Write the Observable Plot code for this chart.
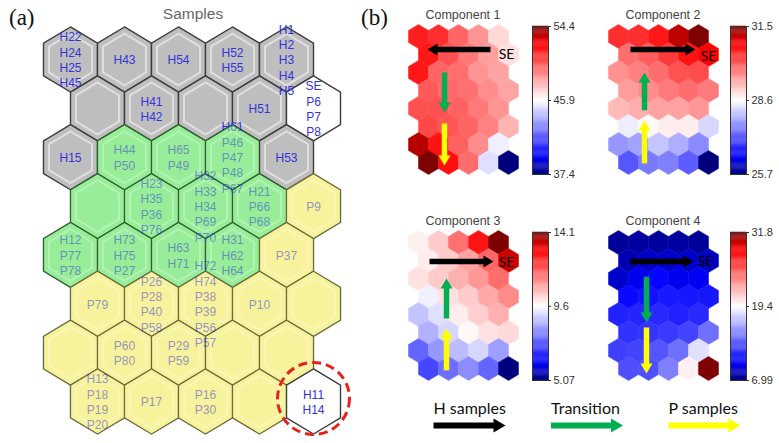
<!DOCTYPE html>
<html><head><meta charset="utf-8">
<script src="https://cdn.jsdelivr.net/npm/d3@7"></script>
<script src="https://cdn.jsdelivr.net/npm/@observablehq/plot@0.6"></script>
<style>
body{margin:0;background:#fff;}
#fig{position:relative;width:779px;height:443px;overflow:hidden;font-family:"Liberation Sans",Arial,sans-serif;background:#fff;}
.box{position:absolute;}
.lbl{position:absolute;white-space:nowrap;line-height:1;}
.panel{font-family:"Liberation Serif","Times New Roman",serif;font-size:23px;color:#111;}
.ttl{font-size:12.5px;color:#444;transform:translateX(-50%);}
</style></head><body><div id="fig"></div>
<script>
// ---------------- DATA ----------------
// (a) SOM of samples: 8 rows x 5 columns (odd rows shifted half a cell right)
const sampleClass = [
  ["H","H","H","H","H"],
  ["H","H","H","H","SE"],
  ["H","T","T","T","H"],
  ["T","T","T","T","P"],
  ["T","T","T","T","P"],
  ["P","P","P","P","P"],
  ["P","P","P","P","P"],
  ["P","P","P","P","O"]
];
const sampleLabels = [
  ["H22 H24 H25 H45","H43","H54","H52 H55","H1 H2 H3 H4 H5"],
  ["","H41 H42","","H51","SE P6 P7 P8"],
  ["H15","H44 P50","H65 P49","H61 P46 P47 P48 P67","H53"],
  ["","H23 H35 P36 P76","H32 H33 H34 P69 P70","H21 P66 P68","P9"],
  ["H12 P77 P78","H73 H75 P27","H63 H71","H31 H62 H64","P37"],
  ["P79","P26 P28 P40 P58","H72 H74 P38 P39 P56 P57","P10",""],
  ["","P60 P80","P29 P59","",""],
  ["H13 P18 P19 P20","P17","P16 P30","","H11 H14"]
];
// (b) component planes, 8 rows x 5 columns
const comp1Values = [
  [51.6, 51.2, 49.8, 48.6, 46.9],
  [51.8, 50.3, 49.3, 48.3, 46.7],
  [51.8, 49.8, 49.6, 48.6, 48.2],
  [50.1, 49.7, 49.5, 48.8, 48.2],
  [50.3, 50.3, 49.9, 49.3, 48.6],
  [50.5, 50.2, 49.8, 49.1, 47.8],
  [53.5, 51.9, 49.9, 48.8, 45.5],
  [54.4, 52.0, 49.6, 45.1, 37.4]
];
const comp2Values = [
  [30.4, 30.4, 30.6, 31.15, 31.5],
  [29.85, 30.0, 30.3, 30.65, 30.8],
  [29.55, 29.7, 29.85, 30.1, 30.15],
  [29.45, 29.6, 29.75, 29.85, 29.75],
  [29.2, 29.3, 29.4, 29.4, 29.5],
  [28.45, 28.65, 28.75, 28.75, 28.25],
  [27.7, 27.8, 28.1, 27.9, 27.6],
  [27.15, 27.45, 27.5, 27.2, 25.7]
];
const comp3Values = [
  [9.8, 10.3, 11.5, 12.75, 14.1],
  [9.85, 10.3, 10.85, 11.65, 13.4],
  [10.0, 10.3, 10.65, 11.0, 11.55],
  [9.4, 10.0, 10.3, 10.75, 11.15],
  [8.8, 9.2, 9.85, 10.25, 10.65],
  [8.55, 9.05, 9.7, 10.0, 10.1],
  [7.5, 8.2, 8.7, 9.05, 8.3],
  [7.1, 7.65, 8.05, 7.5, 5.07]
];
const comp4Values = [
  [7.6, 7.8, 7.7, 7.8, 7.6],
  [8.2, 8.7, 8.8, 8.8, 8.5],
  [8.8, 9.6, 10.1, 9.6, 9.7],
  [10.3, 10.6, 10.9, 10.8, 10.8],
  [11.2, 11.3, 11.5, 11.2, 11.5],
  [11.8, 11.9, 12.1, 12.5, 14.1],
  [12.3, 12.5, 13.1, 14.1, 18.3],
  [12.9, 12.9, 14.7, 19.9, 31.8]
];
const compTitles = ["Component 1","Component 2","Component 3","Component 4"];
const comp1Ticks = [37.4, 45.9, 54.4];
const comp2Ticks = [25.7, 28.6, 31.5];
const comp3Ticks = [5.07, 9.6, 14.1];
const comp4Ticks = [6.99, 19.4, 31.8];
// arrows in grid units (column, row) : H samples (black), transition (green), P samples (yellow)
const comp1Arrows = [{x1:3.6,y1:0.72,x2:0.45,y2:0.72,k:"H"},{x1:1.3,y1:2.0,x2:1.3,y2:4.22,k:"T"},{x1:1.3,y1:4.83,x2:1.3,y2:7.17,k:"P"}];
const comp2Arrows = [{x1:0.6,y1:0.72,x2:3.85,y2:0.72,k:"H"},{x1:1.3,y1:4.1,x2:1.3,y2:2.0,k:"T"},{x1:1.3,y1:7.05,x2:1.3,y2:4.67,k:"P"}];
const comp3Arrows = [{x1:0.55,y1:1.06,x2:3.75,y2:1.06,k:"H"},{x1:1.4,y1:4.22,x2:1.4,y2:2.0,k:"T"},{x1:1.4,y1:7.1,x2:1.4,y2:4.78,k:"P"}];
const comp4Arrows = [{x1:0.6,y1:1.06,x2:3.75,y2:1.06,k:"H"},{x1:1.4,y1:1.9,x2:1.4,y2:4.44,k:"T"},{x1:1.4,y1:4.72,x2:1.4,y2:7.28,k:"P"}];
const seLabelPos = [{x:4.4,y:1.0},{x:4.5,y:1.1},{x:4.4,y:1.1},{x:4.35,y:1.05}];
const legendLabels = ["H samples","Transition","P samples"];
const legendKeys = ["H","T","P"];

// ---------------- STYLE ----------------
const arrowColor = {H:"#000000", T:"#00b050", P:"#ffff00"};
const classFill = {H:"#bebebe", T:"#98ee98", P:"#f7f39c", SE:"#ffffff", O:"#ffffff"};
const classStroke = {H:"#3c3c3c", T:"#2f5f2f", P:"#6e6a40", SE:"#3c3c3c", O:"#3c3c3c"};
const K = 1.205; // hex height stretch
function hexSymbol(k){
  return {draw(ctx, size){
    const rx = Math.sqrt(size/Math.PI), ry = rx*k;
    ctx.moveTo(0,-ry); ctx.lineTo(rx,-ry/2); ctx.lineTo(rx,ry/2);
    ctx.lineTo(0,ry); ctx.lineTo(-rx,ry/2); ctx.lineTo(-rx,-ry/2); ctx.closePath();
  }};
}
function headSymbol(L, W){
  return {draw(ctx){ ctx.moveTo(0,0); ctx.lineTo(W/2,L); ctx.lineTo(-W/2,L); ctx.closePath(); }};
}
const hex = hexSymbol(K);
const baseStyle = {background:"transparent", overflow:"visible", maxWidth:"none", fontFamily:"'Liberation Sans', Arial, sans-serif"};
const fig = document.getElementById("fig");
function place(node, left, top, w, h){
  const d = document.createElement("div");
  d.className = "box"; d.style.left = left+"px"; d.style.top = top+"px";
  d.style.width = w+"px"; d.style.height = h+"px";
  d.appendChild(node); fig.appendChild(d);
}
function label(text, left, top, cls){
  const d = document.createElement("div");
  d.className = "lbl " + cls; d.textContent = text;
  d.style.left = left+"px"; d.style.top = top+"px"; fig.appendChild(d);
}
function arrowMarks(data, kx, ky, shaftW, L, W){
  const rows = data.map(a => {
    const dxp = (a.x2-a.x1)*kx, dyp = (a.y2-a.y1)*ky, len = Math.hypot(dxp,dyp);
    const ux = dxp/len, uy = dyp/len;
    return {...a, sx: a.x2 - (L-1)*ux/kx, sy: a.y2 - (L-1)*uy/ky, rot: Math.atan2(dyp,dxp)*180/Math.PI + 90};
  });
  return [
    Plot.link(rows, {x1:"x1", y1:"y1", x2:"sx", y2:"sy", stroke: d=>arrowColor[d.k], strokeWidth: shaftW, strokeLinecap:"butt"}),
    Plot.dot(rows, {x:"x2", y:"y2", r:5, symbol: headSymbol(L,W), rotate:"rot", fill: d=>arrowColor[d.k], stroke:"none"})
  ];
}

// ---------------- (a) ----------------
const cells = [];
sampleClass.forEach((row, r) => row.forEach((cls, c) => cells.push({
  u: c + (r % 2) * 0.5, v: r, cls, label: sampleLabels[r][c].split(" ").join("\n")
})));
const overlay = cells.filter(d => d.cls === "T" || d.cls === "P");
const somPlot = Plot.plot({
  width:390, height:443, marginLeft:70, marginRight:77, marginTop:59, marginBottom:42,
  x:{domain:[0,4.5], axis:null}, y:{domain:[0,7], reverse:true, axis:null},
  style: baseStyle,
  marks:[
    Plot.dot(cells, {x:"u", y:"v", r:27, symbol:hex, fill:d=>classFill[d.cls], stroke:d=>classStroke[d.cls], strokeWidth:1.4}),
    Plot.dot(cells.filter(d=>d.cls!=="SE"&&d.cls!=="O"), {x:"u", y:"v", r:21.5, symbol:hex, fill:"none", stroke:"#ffffff", strokeOpacity:0.5, strokeWidth:2}),
    Plot.text(cells, {x:"u", y:"v", text:"label", fill:"#3434d8", fontSize:12, lineHeight:1.28}),
    Plot.dot(overlay, {x:"u", y:"v", r:26.3, symbol:hex, fill:d=>classFill[d.cls], fillOpacity:0.5, stroke:"none"}),
    Plot.dot(cells.filter(d=>d.cls==="O"), {x:"u", y:"v", r:36, dy:-3, fill:"none", stroke:"#e8221b", strokeWidth:3, strokeDasharray:"9,5"})
  ]
});
place(somPlot, 0, 0, 390, 443);
label("(a)", 9, 6, "panel");
label("(b)", 361, 6, "panel");
const st = document.createElement("div");
st.className = "lbl"; st.textContent = "Samples";
st.style.cssText += "left:193px;top:6px;font-size:15.5px;color:#666;transform:translateX(-50%);";
fig.appendChild(st);

// ---------------- (b) ----------------
function colorOpts(t){
  const [lo, mid, hi] = t, span = hi - lo;
  return {type:"linear", domain:[lo, lo+0.12*span, mid, hi-0.12*span, hi],
    range:["#00007e","#0000ff","#ffffff","#ff0000","#7e0000"], interpolate:"rgb"};
}
function component(values, ticks, arrows, se, left, top, gridLeft, barLeft, title){
  const data = [];
  values.forEach((row, r) => row.forEach((value, c) => data.push({u: c + (r%2)*0.5, v: r, value})));
  const p = Plot.plot({
    width:150, height:200, marginLeft:gridLeft, marginRight:150-gridLeft-90, marginTop:36, marginBottom:38,
    x:{domain:[0,4.5], axis:null}, y:{domain:[0,7], reverse:true, axis:null},
    color: colorOpts(ticks), style: baseStyle,
    marks:[
      Plot.dot(data, {x:"u", y:"v", r:10, symbol:hex, fill:"value", stroke:"value", strokeWidth:0.5}),
      ...arrowMarks(arrows, 20, 18, 5.5, 10, 12),
      Plot.text([se], {x:"x", y:"y", text:()=>"SE", fontSize:14, fontFamily:"Lato, 'Open Sans', sans-serif", fill:"#000"})
    ]
  });
  place(p, left, top, 150, 200);
  const [lo, , hi] = ticks;
  const steps = d3.range(160).map(i => ({a: lo + (hi-lo)*i/160, b: lo + (hi-lo)*(i+1.3)/160}));
  const bar = Plot.plot({
    width:60, height:200, marginLeft:12, marginRight:32, marginTop:26, marginBottom:26,
    x:{domain:[0,1], axis:null}, y:{domain:[lo,hi], axis:null},
    color: colorOpts(ticks), style: {...baseStyle, color:"#333"},
    marks:[
      Plot.rect(steps, {x1:()=>0, x2:()=>1, y1:"a", y2:"b", fill:d=>(d.a+d.b)/2 - (hi-lo)*0.15/160, inset:0}),
      Plot.frame({stroke:"#333", strokeWidth:1}),
      Plot.axisY({anchor:"right", ticks:ticks, tickFormat:d=>String(d), tickSize:2, tickPadding:3, fontSize:11})
    ]
  });
  place(bar, barLeft, top, 60, 200);
  label(title, left + gridLeft + 45, top + 9, "ttl");
}
component(comp1Values, comp1Ticks, comp1Arrows, seLabelPos[0], 390, 0, 28, 520, compTitles[0]);
component(comp2Values, comp2Ticks, comp2Arrows, seLabelPos[1], 580, 0, 38, 718, compTitles[1]);
component(comp3Values, comp3Ticks, comp3Arrows, seLabelPos[2], 390, 206, 28, 520, compTitles[2]);
component(comp4Values, comp4Ticks, comp4Arrows, seLabelPos[3], 580, 206, 38, 718, compTitles[3]);

// legend
const legendData = legendLabels.map((label, i) => ({i, label, k: legendKeys[i]}));
const legendArrows = legendData.map(d => ({x1:d.i, y1:1, x2:d.i + 72/117.5, y2:1, k:d.k}));
const legend = Plot.plot({
  width:389, height:58, marginLeft:43, marginRight:111, marginTop:23, marginBottom:18,
  x:{domain:[0,2], axis:null}, y:{domain:[0,1], reverse:true, axis:null},
  style: baseStyle,
  marks:[
    Plot.text(legendData, {x:"i", y:()=>0, text:"label", textAnchor:"start", fontSize:16, fontFamily:"Lato, 'Open Sans', sans-serif", fill:"#111"}),
    ...arrowMarks(legendArrows, 117.5, 17, 6, 12, 14)
  ]
});
place(legend, 390, 385, 389, 58);
</script></body></html>
